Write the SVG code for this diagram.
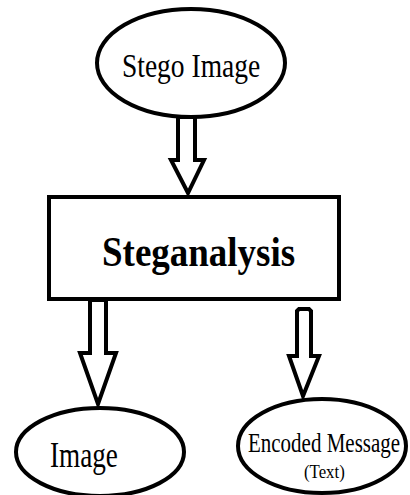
<svg xmlns="http://www.w3.org/2000/svg" width="410" height="495" viewBox="0 0 410 495">
<style>
.shape{fill:#fff;stroke:#000;stroke-width:4}
.arrow{fill:#fff;stroke:#000;stroke-width:4;stroke-linejoin:miter}
.t{font-family:"Liberation Serif","Times New Roman",serif;fill:#000;text-anchor:start}
</style>
<rect width="410" height="495" fill="#fff"/>
<g id="connectors">
<polygon class="arrow" points="178,117 195,117 195,160 204,160 188,193 171,160 178,160"/>
<polygon class="arrow" points="90,300 106,300 106,353 116,353 98,404 80,353 90,353"/>
<polygon class="arrow" points="297,311 299,309 309,309 311,311 311,356 319,356 303,396 289,356 297,356"/>
</g>
<g id="stego-image">
<ellipse class="shape" cx="191" cy="63" rx="94" ry="54"/>
<text class="t" transform="translate(122,77) scale(1,1.2)" font-size="27.5">Stego Image</text>
</g>
<g id="steganalysis">
<rect class="shape" x="49" y="197" width="290" height="102"/>
<text class="t" transform="translate(102,266) scale(1,1.14)" font-size="37" font-weight="bold">Steganalysis</text>
</g>
<g id="image">
<ellipse class="shape" cx="100" cy="452" rx="84" ry="44"/>
<text class="t" transform="translate(50,467) scale(1,1.29)" font-size="27.2">Image</text>
</g>
<g id="encoded-message">
<ellipse class="shape" cx="322" cy="446" rx="84" ry="47"/>
<text class="t" transform="translate(248,452) scale(1,1.29)" font-size="21">Encoded Message</text>
<text class="t" transform="translate(304,478) scale(1,1.07)" font-size="16.8">(Text)</text>
</g>
</svg>
